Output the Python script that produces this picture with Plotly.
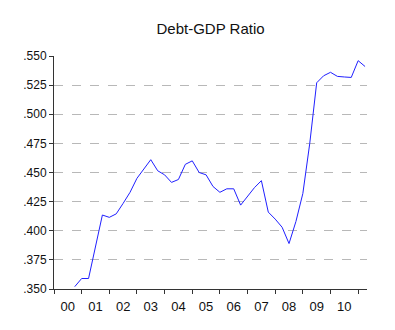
import plotly.graph_objects as go

# Quarterly observations (decimal year positions), 2000Q4 .. 2011Q2
t = [2000.75 + 0.25 * i for i in range(43)]
ratio = [0.352, 0.359, 0.359, 0.386, 0.4135, 0.4115, 0.4145, 0.4235, 0.433, 0.445,
         0.453, 0.461, 0.4515, 0.448, 0.4415, 0.444, 0.457, 0.460, 0.450, 0.448,
         0.438, 0.433, 0.436, 0.436, 0.422, 0.430, 0.437, 0.443, 0.416, 0.410,
         0.403, 0.389, 0.408, 0.432, 0.475, 0.527, 0.533, 0.536, 0.5325, 0.532,
         0.5316, 0.546, 0.541]

year_labels = ["00", "01", "02", "03", "04", "05", "06", "07", "08", "09", "10"]
year_label_pos = [2000.5 + i for i in range(11)]
year_bounds = [2000 + i for i in range(12)]

y_ticks = [0.350, 0.375, 0.400, 0.425, 0.450, 0.475, 0.500, 0.525, 0.550]
y_text = [".350", ".375", ".400", ".425", ".450", ".475", ".500", ".525", ".550"]
y_grid = [0.375, 0.400, 0.425, 0.450, 0.475, 0.500, 0.525]

fig = go.Figure()
fig.add_trace(go.Scatter(x=t, y=ratio, mode="lines",
                         line=dict(color="#2020ff", width=1), showlegend=False))

fig.update_layout(
    width=395, height=330,
    margin=dict(l=54, r=28, t=56, b=41),
    paper_bgcolor="white", plot_bgcolor="white",
    font=dict(family="Liberation Sans, Arial, sans-serif", size=12, color="#111"),
    title=dict(text="Debt-GDP Ratio", x=0.533, xanchor="center",
               y=1 - 28.5 / 330, yanchor="middle", yref="container",
               font=dict(size=15, color="#111")),
)
fig.update_xaxes(
    range=[2000, 2011.32], showgrid=False, zeroline=False,
    showline=True, linecolor="#333", linewidth=1,
    tickvals=year_label_pos, ticktext=year_labels,
    ticks="outside", ticklen=5, tickcolor="rgba(0,0,0,0)",
    tickfont=dict(size=13),
    minor=dict(tickvals=year_bounds, ticks="outside", ticklen=4,
               tickcolor="#333", showgrid=False),
)
fig.update_yaxes(
    range=[0.350, 0.550], zeroline=False,
    showline=True, linecolor="#333", linewidth=1,
    tickvals=y_ticks, ticktext=y_text,
    ticks="outside", ticklen=4, tickcolor="#333",
    showgrid=False,
    minor=dict(tickvals=y_grid, ticks="", showgrid=True,
               gridcolor="#b8b8b8", griddash="dash", gridwidth=1),
)

fig.write_html("out.html")
